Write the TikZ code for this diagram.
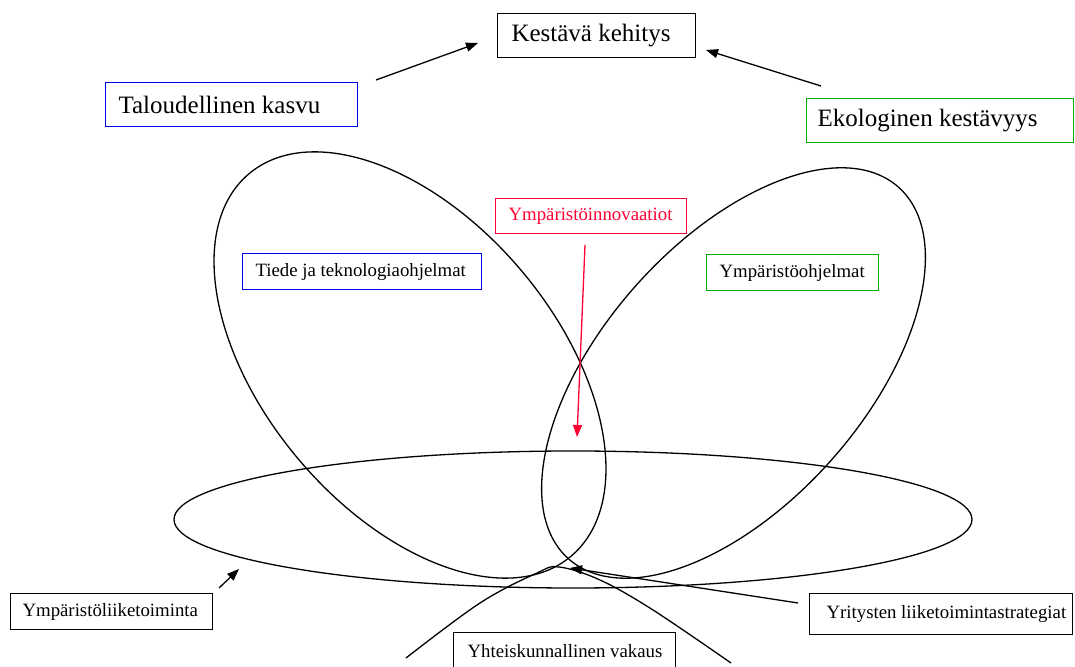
\documentclass[tikz,border=0pt]{standalone}
\usepackage{fontspec}
\setmainfont{Liberation Serif}
\usetikzlibrary{arrows.meta}
\definecolor{boxblue}{RGB}{0,0,230}
\definecolor{boxgreen}{RGB}{0,176,0}
\definecolor{boxred}{RGB}{255,0,51}
% fixed-width, left-aligned label text (never wraps)
\newcommand{\padtext}[2]{\makebox[#1pt][l]{#2}}

\begin{document}
\begin{tikzpicture}[x=1pt,y=1pt,
  boxbase/.style={draw=black, line width=1.1pt, rectangle, anchor=north west, inner ysep=0pt},
  bigbox/.style={boxbase, font=\fontsize{25}{28}\selectfont},
  smallbox/.style={boxbase, font=\fontsize{18.8}{22}\selectfont},
  loop/.style={draw=black, line width=1.3pt},
  link/.style={draw=black, line width=1.3pt, -{Triangle[length=12pt,width=9pt]}},
  redlink/.style={draw=boxred, line width=1.3pt, -{Triangle[length=12pt,width=9pt]}}
]
\useasboundingbox (0,0) rectangle (1075,666);

% overlapping loops
\draw[loop] (410,301) ellipse [x radius=250pt, y radius=146pt, rotate=-49.9];
\draw[loop] (733.5,293) ellipse [x radius=248.5pt, y radius=131pt, rotate=48.4];
\draw[loop] (573,146.5) ellipse [x radius=399pt, y radius=68.5pt];
\draw[loop] plot[smooth, tension=0.6] coordinates
  {(406,8) (480,63) (537,93) (559,99) (600,86) (653,56) (731,3)};

% labels
\node[bigbox, inner xsep=14pt, minimum height=44pt] (kest) at (497,653)
  {\padtext{170}{Kestävä kehitys}};
\node[bigbox, draw=boxblue, inner xsep=13pt, minimum height=44pt] (talo) at (105,584)
  {\padtext{226}{Taloudellinen kasvu}};
\node[bigbox, draw=boxgreen, inner xsep=11pt, minimum height=44pt] (eko) at (806,568)
  {\padtext{245}{Ekologinen kestävyys}};
\node[smallbox, draw=boxred, text=boxred, inner xsep=13pt, minimum height=35pt] (inno) at (495,468)
  {\padtext{165}{Ympäristöinnovaatiot}};
\node[smallbox, draw=boxblue, inner xsep=13pt, minimum height=36pt] (tiede) at (242,413)
  {\padtext{213}{Tiede ja teknologiaohjelmat}};
\node[smallbox, draw=boxgreen, inner xsep=13pt, minimum height=36pt] (yohj) at (706,412)
  {\padtext{146}{Ympäristöohjelmat}};
\node[smallbox, inner xsep=12pt, minimum height=36pt] (yliik) at (10,73)
  {\padtext{178}{Ympäristöliiketoiminta}};
\node[smallbox, inner xsep=17pt, minimum height=41pt] (yrit) at (809,73)
  {\padtext{229}{Yritysten liiketoimintastrategiat}};
\node[smallbox, inner xsep=14pt, minimum height=37pt] (yhte) at (453,34)
  {\padtext{194}{Yhteiskunnallinen vakaus}};

% arrow end points
\coordinate (taloOut) at (376,586);
\coordinate (kestInL) at (478,623);
\coordinate (ekoOut) at (821,580);
\coordinate (kestInR) at (706,616);
\coordinate (innoOut) at (585,421);
\coordinate (innoIn) at (577,229);
\coordinate (yliikOut) at (219,78);
\coordinate (yliikIn) at (239,97);
\coordinate (yritOut) at (798,63);
\coordinate (yritIn) at (570,98);

\draw[link] (taloOut) -- (kestInL);
\draw[link] (ekoOut) -- (kestInR);
\draw[redlink] (innoOut) -- (innoIn);
\draw[link] (yliikOut) -- (yliikIn);
\draw[link] (yritOut) -- (yritIn);
\end{tikzpicture}
\end{document}
